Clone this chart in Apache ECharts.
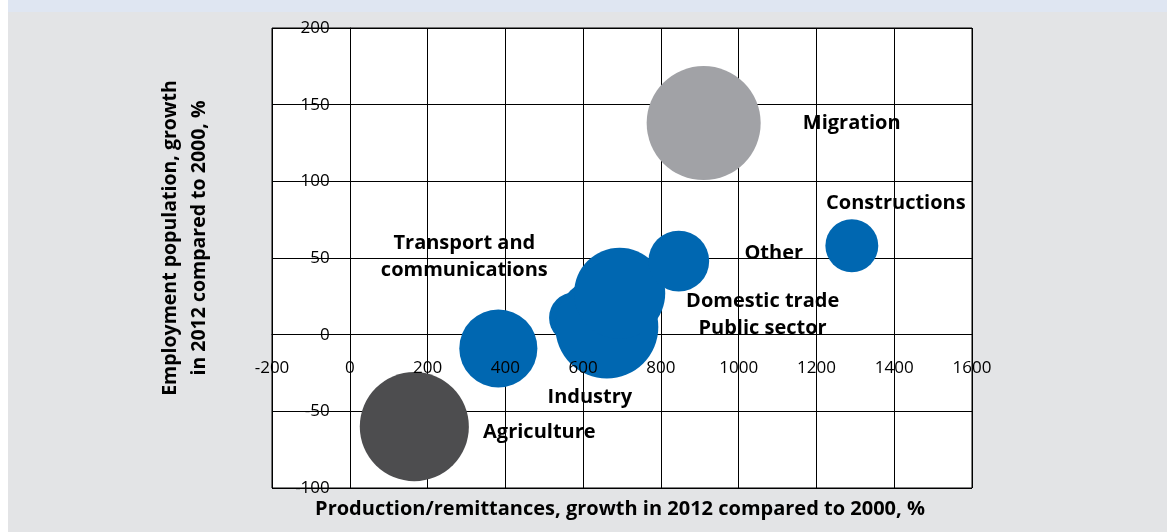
<!DOCTYPE html>
<html>
<head>
<meta charset="utf-8">
<title>Production and employment growth by sector</title>
<script src="https://cdn.jsdelivr.net/npm/echarts@6/dist/echarts.min.js"></script>
<style>
    html, body { margin: 0; padding: 0; background: #fff; }
    #frame { position: absolute; left: 8px; top: 0; width: 1159px; height: 532px; background: #e3e4e6; }
    #band { position: absolute; left: 0; top: 0; width: 100%; height: 12px; background: #dfe6f2; }
    #main { position: absolute; left: 0; top: 0; width: 1167px; height: 532px; }
</style>
</head>
<body>
<div id="frame"><div id="band"></div></div>
<div id="main"></div>
<script>
// sector bubbles: growth 2012 vs 2000, %
var sectors = ['Agriculture', 'Transport and\ncommunications', 'Public sector', 'Industry',
    'Domestic trade', 'Other', 'Migration', 'Constructions'];
var production = [166, 382, 578, 661, 694, 846, 910, 1291];
var employment = [-60, -9, 11, 5, 27, 48, 138, 58];
var weight = [119, 61, 26, 106, 83, 37, 130, 28];
var kind = ['agriculture', 'sector', 'sector', 'sector', 'sector', 'sector', 'migration', 'sector'];

var xTitle = 'Production/remittances, growth in 2012 compared to 2000, %';
var yTitle = 'Employment population, growth\nin 2012 compared to 2000, %';

var xMin = -200, xMax = 1600, xStep = 200;
var yMin = -100, yMax = 200, yStep = 50;

var kindColor = { agriculture: '#4d4d4f', sector: '#0067b1', migration: '#a1a2a6' };
// where each label sits, relative to its bubble centre
var labelOffset = {
    'Agriculture': [125, 6],
    'Transport and\ncommunications': [-34, -92],
    'Public sector': [188, 10],
    'Industry': [-17, 70],
    'Domestic trade': [143, 8],
    'Other': [95, -8],
    'Migration': [148, 0],
    'Constructions': [44, -42]
};

var points = sectors.map(function (name, i) {
    return {
        name: name,
        value: [production[i], employment[i], weight[i]],
        itemStyle: { color: kindColor[kind[i]] }
    };
});

// plot box
var gridLeft = 272, gridTop = 28, gridRight = 195, gridBottom = 44;
var gridW = 1167 - gridLeft - gridRight;
var gridH = 532 - gridTop - gridBottom;
// axes cross at zero (onZero doesn't kick in here, so shift them by hand)
var xAxisShift = -gridH * (0 - yMin) / (yMax - yMin);
var yAxisShift = -gridW * (0 - xMin) / (xMax - xMin);

var tickFont = { color: '#000', fontFamily: 'Open Sans', fontSize: 17 };
function plainNumber(v) { return String(v); }

var myChart = echarts.init(document.getElementById('main'), null, { renderer: 'canvas' });

var option = {
    animation: false,
    backgroundColor: 'transparent',
    grid: {
        left: gridLeft, top: gridTop, right: gridRight, bottom: gridBottom,
        show: true, backgroundColor: '#fff', borderColor: '#000', borderWidth: 1
    },
    xAxis: [
        {
            // lines, behind the bubbles
            type: 'value', min: xMin, max: xMax, interval: xStep,
            position: 'bottom', offset: xAxisShift,
            axisLine: { onZero: false, lineStyle: { color: '#000', width: 1 } },
            axisTick: { show: false },
            axisLabel: { show: false },
            splitLine: { show: true, lineStyle: { color: '#000', width: 1 } }
        },
        {
            // tick labels, drawn over the bubbles
            type: 'value', min: xMin, max: xMax, interval: xStep,
            position: 'bottom', offset: xAxisShift, z: 10,
            axisLine: { show: false, onZero: false },
            axisTick: { show: false },
            axisLabel: Object.assign({ margin: 25, showMinLabel: true, showMaxLabel: true, formatter: plainNumber }, tickFont),
            splitLine: { show: false }
        }
    ],
    yAxis: {
        type: 'value', min: yMin, max: yMax, interval: yStep,
        position: 'left', offset: yAxisShift,
        axisLine: { onZero: false, lineStyle: { color: '#000', width: 1 } },
        axisTick: { show: false },
        axisLabel: Object.assign({ margin: 20, showMinLabel: true, showMaxLabel: true, formatter: plainNumber }, tickFont),
        splitLine: { show: true, lineStyle: { color: '#000', width: 1 } }
    },
    series: [{
        type: 'scatter',
        xAxisIndex: 0,
        data: points,
        symbol: 'circle',
        symbolSize: function (val) { return 10 * Math.sqrt(val[2]); },
        itemStyle: { opacity: 1 },
        emphasis: { disabled: true },
        label: {
            show: true,
            position: 'inside',
            formatter: '{b}',
            color: '#000',
            fontFamily: 'Open Sans',
            fontWeight: 'bold',
            fontSize: 20,
            lineHeight: 27,
            align: 'center',
            verticalAlign: 'middle'
        },
        labelLayout: function (params) {
            var off = labelOffset[sectors[params.dataIndex]];
            return { dx: off[0], dy: off[1], hideOverlap: false };
        }
    }],
    graphic: [
        {
            type: 'text', x: 620, y: 509,
            style: {
                text: xTitle, fill: '#000',
                font: 'bold 20px "Open Sans"', textAlign: 'center', textVerticalAlign: 'middle'
            }
        },
        {
            type: 'text', x: 185, y: 238, rotation: Math.PI / 2,
            style: {
                text: yTitle, fill: '#000', lineHeight: 29,
                font: 'bold 19.5px "Open Sans"', textAlign: 'center', textVerticalAlign: 'middle'
            }
        }
    ]
};

myChart.setOption(option);
</script>
</body>
</html>
